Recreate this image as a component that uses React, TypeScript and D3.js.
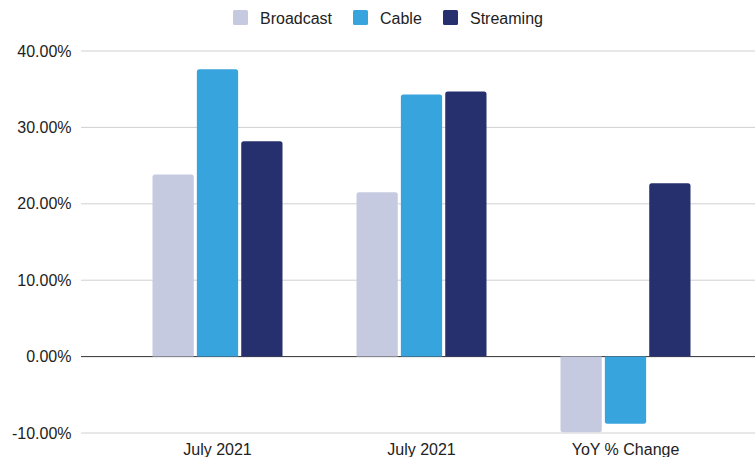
import React from "react";
import * as d3 from "d3";

const categories = ["July 2021", "July 2021 ", "YoY % Change"];
const categoryLabels = ["July 2021", "July 2021", "YoY % Change"];
const seriesNames = ["Broadcast", "Cable", "Streaming"];
const broadcast = [0.2385, 0.215, -0.099];
const cable = [0.376, 0.343, -0.088];
const streaming = [0.282, 0.347, 0.227];
const colors = ["#c5cae0", "#38a4dd", "#27306e"];
const yTicks = [-0.1, 0, 0.1, 0.2, 0.3, 0.4];

const W = 755;
const H = 457;

function barPath(x: number, w: number, y0: number, y1: number, r: number) {
  const up = y1 < y0;
  const h = Math.abs(y1 - y0);
  const rr = Math.min(r, h / 2, w / 2);
  if (up) {
    return `M${x},${y0}V${y1 + rr}Q${x},${y1} ${x + rr},${y1}H${x + w - rr}Q${x + w},${y1} ${x + w},${y1 + rr}V${y0}Z`;
  }
  return `M${x},${y0}V${y1 - rr}Q${x},${y1} ${x + rr},${y1}H${x + w - rr}Q${x + w},${y1} ${x + w},${y1 - rr}V${y0}Z`;
}

export default function App() {
  const series = [broadcast, cable, streaming];
  const y = d3.scaleLinear().domain([-0.1, 0.4]).range([433, 51]);
  const x0 = d3.scaleBand<string>().domain(categories).range([115.5, 727.5]).paddingInner(0).paddingOuter(0);
  const groupW = 130;
  const x1 = d3.scaleBand<string>().domain(seriesNames).range([0, groupW]).paddingInner(0.07);
  const fmt = (v: number) => (v * 100).toFixed(2) + "%";
  const font = "Liberation Sans, Arial, Helvetica, sans-serif";
  const fs = 16;

  const legendX = [233, 353, 443];

  return (
    <svg width={W} height={H} style={{ position: "absolute", left: 0, top: 0, background: "#fff" }} fontFamily={font}>
      <rect width={W} height={H} fill="#fff" />
      {yTicks.map((t) => (
        <g key={t}>
          <line x1={81} x2={755} y1={y(t)} y2={y(t)} stroke={t === 0 ? "#333" : "#d0d0d0"} strokeWidth={1} />
          <text x={71.5} y={y(t)} dy="0.35em" textAnchor="end" fontSize={fs} fill="#222">
            {fmt(t)}
          </text>
        </g>
      ))}
      {categories.map((c, ci) => {
        const gx = (x0(c) as number) + (x0.bandwidth() - groupW) / 2;
        return (
          <g key={c}>
            {series.map((s, si) => {
              const bx = gx + (x1(seriesNames[si]) as number);
              return (
                <path
                  key={si}
                  d={barPath(bx, x1.bandwidth(), y(0), y(s[ci]), 2.5)}
                  fill={colors[si]}
                />
              );
            })}
            <text x={(x0(c) as number) + x0.bandwidth() / 2} y={449} dy="0.35em" textAnchor="middle" fontSize={fs} fill="#222">
              {categoryLabels[ci]}
            </text>
          </g>
        );
      })}
      {seriesNames.map((n, i) => (
        <g key={n}>
          <rect x={legendX[i]} y={10} width={15} height={15} rx={1.5} fill={colors[i]} />
          <text x={legendX[i] + 27} y={18} dy="0.35em" fontSize={fs} fill="#222">
            {n}
          </text>
        </g>
      ))}
    </svg>
  );
}
